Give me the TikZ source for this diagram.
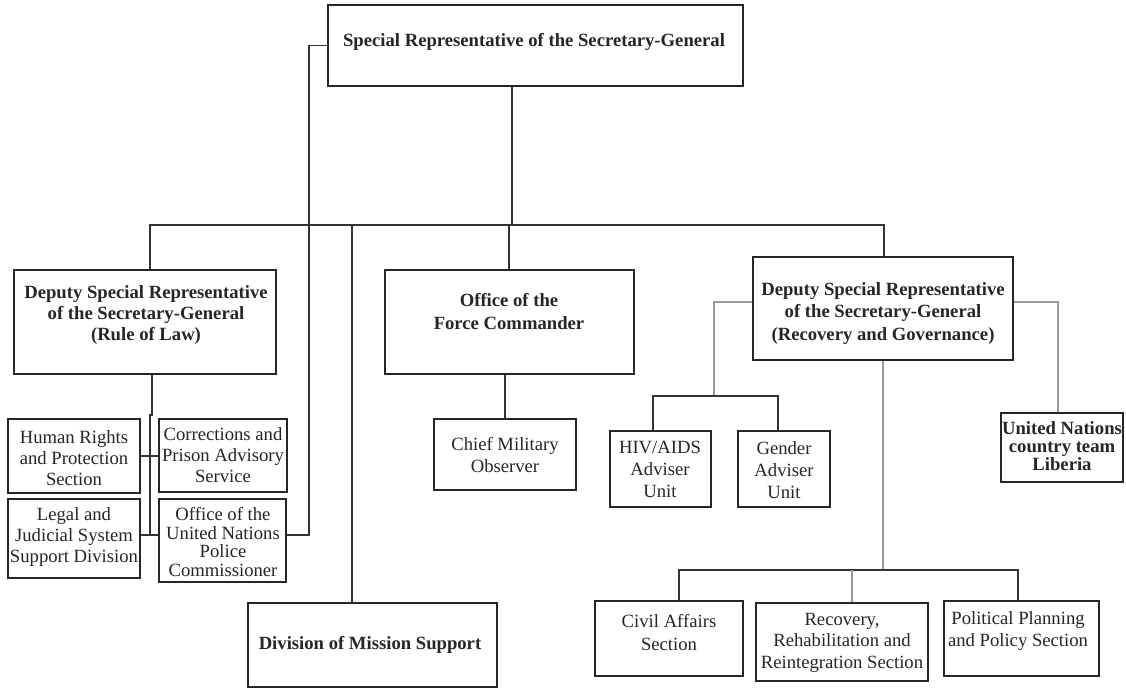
\documentclass[tikz,border=0pt]{standalone}
\usepackage{fontspec}
\setmainfont{Liberation Serif}
\usetikzlibrary{fit}

\tikzset{
  box/.style={draw=black!85, line width=1.4pt, inner sep=0pt},
  txt/.style={align=center, inner sep=0pt, anchor=north, text=black!85, font=\fontsize{14}{16}\selectfont},
  btxt/.style={txt, font=\fontsize{14}{16}\selectfont\bfseries},
  link/.style={draw=black!80, line width=1.2pt},
  glink/.style={draw=black!40, line width=1.2pt},
}

\begin{document}
\begin{tikzpicture}[x=0.75pt, y=-0.75pt]
  \fill[white] (0,0) rectangle (1126,689);
  \useasboundingbox (0,0) rectangle (1126,689);

  % boxes, corner to corner
  \node[box, fit={(328,5) (743,86)}] (srsg) {};
  \node[box, fit={(14,270) (276,374)}] (rol) {};
  \node[box, fit={(385,270) (634,374)}] (fc) {};
  \node[box, fit={(753,257) (1013,360)}] (rg) {};
  \node[box, fit={(248,603) (497,687)}] (dms) {};
  \node[box, fit={(8,419) (140,493)}] (hr) {};
  \node[box, fit={(8,499) (140,578)}] (legal) {};
  \node[box, fit={(159,419) (287,492)}] (corr) {};
  \node[box, fit={(159,499) (286,582)}] (police) {};
  \node[box, fit={(434,419) (576,490)}] (cmo) {};
  \node[box, fit={(610,431) (711,507)}] (hiv) {};
  \node[box, fit={(738,431) (830,507)}] (gender) {};
  \node[box, fit={(1001,413) (1123,482)}] (unct) {};
  \node[box, fit={(595,601) (743,676)}] (civil) {};
  \node[box, fit={(756,603) (928,681)}] (recov) {};
  \node[box, fit={(944,601) (1099,676)}] (polplan) {};

  % texts
  \node[btxt] (srsg-t) at (534,33) {Special Representative of the Secretary-General};
  \node[btxt] (rol-t) at (146,285) {Deputy Special Representative\\of the Secretary-General\\(Rule of Law)};
  \node[btxt, font=\fontsize{14}{17}\selectfont\bfseries] (fc-t) at (509,293) {Office of the\\Force Commander};
  \node[btxt, font=\fontsize{14}{17}\selectfont\bfseries] (rg-t) at (883,282) {Deputy Special Representative\\of the Secretary-General\\(Recovery and Governance)};
  \node[btxt] (dms-t) at (370,636) {Division of Mission Support};
  \node[txt] (hr-t) at (74,430) {Human Rights\\and Protection\\Section};
  \node[txt] (legal-t) at (74,507) {Legal and\\Judicial System\\Support Division};
  \node[txt] (corr-t) at (223,427) {Corrections and\\Prison Advisory\\Service};
  \node[txt, font=\fontsize{14}{14}\selectfont] (police-t) at (223,507) {Office of the\\United Nations\\Police\\Commissioner};
  \node[txt, font=\fontsize{14}{16.5}\selectfont] (cmo-t) at (505,437) {Chief Military\\Observer};
  \node[txt, font=\fontsize{14}{16.5}\selectfont] (hiv-t) at (660,441) {HIV/AIDS\\Adviser\\Unit};
  \node[txt, font=\fontsize{14}{16.5}\selectfont] (gender-t) at (784,441) {Gender\\Adviser\\Unit};
  \node[btxt, font=\fontsize{14}{13.5}\selectfont\bfseries] (unct-t) at (1062,421) {United Nations\\country team\\Liberia};
  \node[txt, font=\fontsize{14}{17}\selectfont] (civil-t) at (669,614) {Civil Affairs\\Section};
  \node[txt] (recov-t) at (842,613) {Recovery,\\Rehabilitation and\\Reintegration Section};
  \node[txt, font=\fontsize{14}{16.5}\selectfont] (polplan-t) at (1018,611) {Political Planning\\and Policy Section};

  % turning points of the connectors
  \coordinate (hub) at (512,225);
  \coordinate (rolDrop) at (150,225);
  \coordinate (dmsDrop) at (352,225);
  \coordinate (fcDrop) at (509,225);
  \coordinate (rgDrop) at (884,225);
  \coordinate (polTurn) at (309,535);
  \coordinate (rolJog) at (152,415);
  \coordinate (rolBus) at (150,535);
  \coordinate (advTurn) at (714,302);
  \coordinate (advBus) at (714,396);
  \coordinate (hivTurn) at (653,396);
  \coordinate (genTurn) at (778,396);
  \coordinate (unTurn) at (1058,302);
  \coordinate (secBus) at (883,570);
  \coordinate (civTurn) at (679,570);
  \coordinate (recTurn) at (852,570);
  \coordinate (ppTurn) at (1018,570);

  % top level
  \draw[link] (srsg.south -| hub) -- (hub);
  \draw[link] (rolDrop |- rol.north) -- (rolDrop) -- (rgDrop) -- (rgDrop |- rg.north);
  \draw[link] (fcDrop) -- (fcDrop |- fc.north);
  \draw[link] (dmsDrop) -- (dmsDrop |- dms.north);
  \draw[link] (srsg.west) -| (polTurn) -- (police.east |- polTurn);

  % rule of law
  \draw[link] (rolJog |- rol.south) -- (rolJog) -- ++(-2,0) -- (rolBus);
  \draw[link] (hr.east) -- (hr.east -| corr.west);
  \draw[link] (legal.east |- rolBus) -- (police.west |- rolBus);

  % force commander
  \draw[link] (cmo.north) -- (cmo.north |- fc.south);

  % recovery and governance
  \draw[glink] (rg.west |- advTurn) -- (advTurn) -- (advBus);
  \draw[link] (hivTurn |- hiv.north) |- (genTurn) -- (genTurn |- gender.north);
  \draw[glink] (rg.east |- unTurn) -- (unTurn) -- (unTurn |- unct.north);
  \draw[glink] (rg.south -| secBus) -- (secBus);
  \draw[link] (civTurn |- civil.north) |- (ppTurn) -- (ppTurn |- polplan.north);
  \draw[glink] (recTurn) -- (recTurn |- recov.north);
\end{tikzpicture}
\end{document}
